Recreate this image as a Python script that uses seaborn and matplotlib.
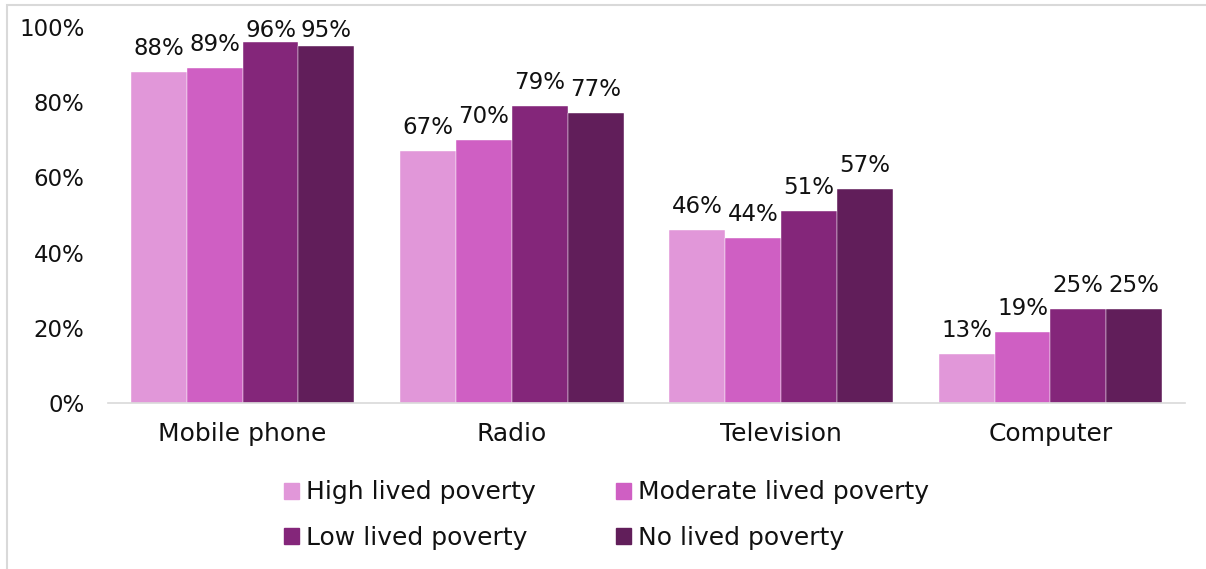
import matplotlib
matplotlib.use("Agg")
import matplotlib.pyplot as plt
import matplotlib.patches as mpatches
import seaborn as sns
import pandas as pd

categories = ["Mobile phone", "Radio", "Television", "Computer"]
groups = ["High lived poverty", "Moderate lived poverty", "Low lived poverty", "No lived poverty"]
high = [88, 67, 46, 13]
moderate = [89, 70, 44, 19]
low = [96, 79, 51, 25]
none_ = [95, 77, 57, 25]
colors = ["#E197D9", "#CF5FC3", "#84267A", "#611E5A"]

rows = []
for g, vals in zip(groups, [high, moderate, low, none_]):
    for c, v in zip(categories, vals):
        rows.append({"item": c, "group": g, "value": v})
df = pd.DataFrame(rows)

sns.set_theme(style="white")
plt.rcParams["font.family"] = ["DejaVu Sans"]

fig = plt.figure(figsize=(12.06, 5.69), dpi=100)
ax = fig.add_axes([108 / 1206, 1 - 403 / 569, (1185 - 108) / 1206, (403 - 27) / 569])

sns.barplot(data=df, x="item", y="value", hue="group", order=categories,
            hue_order=groups, palette=colors, saturation=1, width=0.83, ax=ax,
            edgecolor="white", linewidth=0.3, legend=False)

# value labels above each bar, kept inside the top of the plot area
label_gap = 3.2
label_ceiling = 96.0
for cont in ax.containers:
    for bar, v in zip(cont.patches, cont.datavalues):
        x = bar.get_x() + bar.get_width() / 2
        y = min(v + label_gap, label_ceiling)
        ax.text(x, y, f"{v:.0f}%", ha="center", va="bottom",
                fontsize=16.5, color="#111111", clip_on=False)

ax.set_ylim(0, 100)
ax.set_xlim(-0.5, 3.5)
ax.set_yticks(range(0, 101, 20))
ax.set_yticklabels([f"{t}%" for t in range(0, 101, 20)], fontsize=16.5, color="#111111")
ax.tick_params(axis="x", labelsize=18, labelcolor="#111111", pad=14, length=0)
ax.tick_params(axis="y", pad=17, length=0)
ax.set_xlabel("")
ax.set_ylabel("")
for s in ["top", "right", "left"]:
    ax.spines[s].set_visible(False)
ax.spines["bottom"].set_color("#D9D9D9")
ax.spines["bottom"].set_linewidth(1.2)

# legend is filled column-wise, so order handles to read row by row
patches = [mpatches.Patch(color=c, label=g) for c, g in zip(colors, groups)]
handles = [patches[0], patches[2], patches[1], patches[3]]
fig.legend(handles=handles, loc="center", bbox_to_anchor=(0.503, 1 - 515 / 569),
           ncol=2, frameon=False, fontsize=18, handlelength=0.6, handleheight=0.6,
           handletextpad=0.3, columnspacing=3.2, labelspacing=0.85, labelcolor="#111111")

border = mpatches.Rectangle((7 / 1206, -0.05), 1.2, 1 - 5 / 569 + 0.05,
                            transform=fig.transFigure, fill=False,
                            edgecolor="#D9D9D9", linewidth=1.5)
fig.patches.append(border)

fig.savefig("out.png", dpi=100)
